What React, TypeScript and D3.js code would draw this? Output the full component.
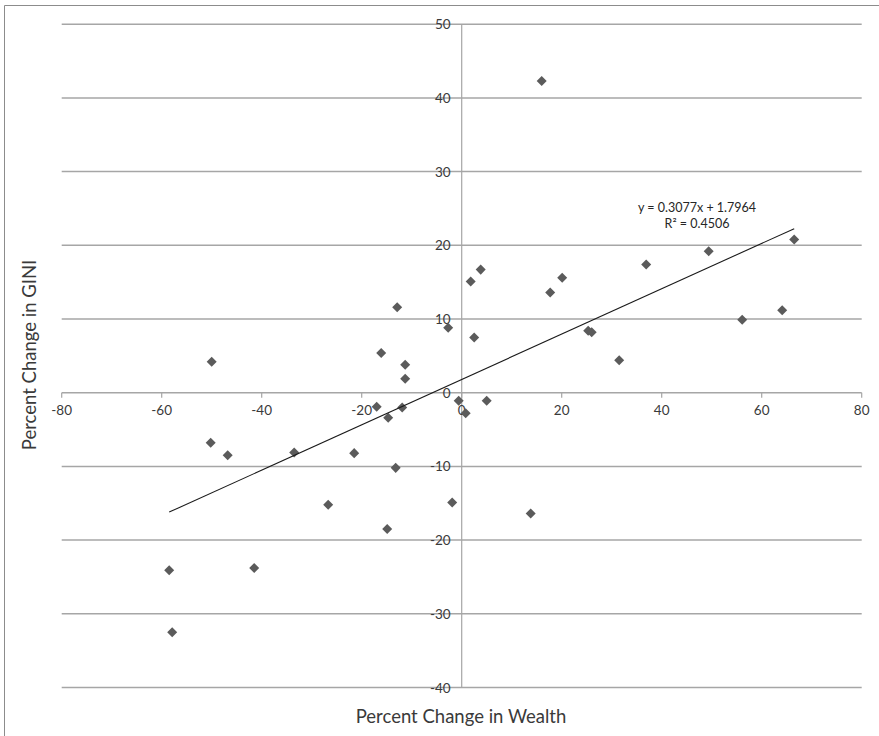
import React from "react";
import * as d3 from "d3";

// Percent change in wealth (x) and percent change in GINI (y), one entry per observation
const wealthChange = [
  -50.0, -50.2, -46.8, -33.5, -26.7, -21.5, -17.0, -16.1, -14.7, -14.9,
  -13.2, -12.9, -11.9, -11.3, -11.3, -2.7, -1.9, -0.6, 0.8, 1.8,
  2.5, 3.8, 5.0, 17.7, 20.1, 25.3, 26.0, 31.5, 36.9, 49.4,
  66.5, 56.1, 64.1, 16.0, 13.8, -58.5, -57.9, -41.5,
];
const giniChange = [
  4.2, -6.8, -8.5, -8.1, -15.2, -8.2, -1.9, 5.4, -3.4, -18.5,
  -10.2, 11.6, -2.0, 3.8, 1.9, 8.8, -14.9, -1.1, -2.8, 15.1,
  7.5, 16.7, -1.1, 13.6, 15.6, 8.4, 8.2, 4.4, 17.4, 19.2,
  20.8, 9.9, 11.2, 42.3, -16.4, -24.1, -32.5, -23.8,
];

// Linear trend reported for the series
const trendSlope = 0.3077;
const trendIntercept = 1.7964;
const trendRSquared = 0.4506;

const xTicks = [-80, -60, -40, -20, 0, 20, 40, 60, 80];
const yTicks = [50, 40, 30, 20, 10, 0, -10, -20, -30, -40];

const W = 879;
const H = 736;
const FONT = "Lato, 'Open Sans', 'DejaVu Sans', sans-serif";

export default function App() {
  const x = d3.scaleLinear().domain([-80, 80]).range([61.7, 861.7]);
  const y = d3.scaleLinear().domain([-40, 50]).range([687.5, 24.2]);

  const points = wealthChange.map((wx, i) => ({ wx, gy: giniChange[i] }));
  const [xMin, xMax] = d3.extent(wealthChange) as [number, number];
  const trend = d3
    .line<number>()
    .x((v) => x(v))
    .y((v) => y(trendSlope * v + trendIntercept));

  const diamond = d3.symbol().type(d3.symbolDiamond2).size(64)();
  const gridColor = "#a6a6a6";
  const textColor = "#3a3a3a";

  return (
    <div style={{ position: "fixed", left: 0, top: 0 }}>
      <svg width={W} height={H} style={{ display: "block", background: "#fff" }}>
        {/* chart frame (left and top edges fall inside the view) */}
        <line x1={4.5} x2={4.5} y1={5.5} y2={H} stroke="#8c8c8c" strokeWidth={1} />
        <line x1={4.5} x2={W} y1={5.5} y2={5.5} stroke="#8c8c8c" strokeWidth={1} />

        {/* horizontal gridlines */}
        {yTicks.map((t) => (
          <line key={`g${t}`} x1={x(-80)} x2={x(80)} y1={y(t)} y2={y(t)} stroke={gridColor} strokeWidth={1.5} />
        ))}

        {/* vertical axis line at x = 0 */}
        <line x1={x(0)} x2={x(0)} y1={y(50)} y2={y(-40)} stroke={gridColor} strokeWidth={1.2} />

        {/* x tick marks */}
        {xTicks.map((t) => (
          <line key={`xt${t}`} x1={x(t)} x2={x(t)} y1={y(0)} y2={y(0) + 5} stroke={gridColor} strokeWidth={1.2} />
        ))}

        {/* x tick labels */}
        {xTicks.map((t) => (
          <text key={`xl${t}`} x={x(t)} y={y(0) + 22} textAnchor="middle" fontFamily={FONT} fontSize={13.5} fill={textColor}>
            {t}
          </text>
        ))}

        {/* y tick labels */}
        {yTicks.map((t) => (
          <text key={`yl${t}`} x={x(0) - 11} y={y(t) + 5} textAnchor="end" fontFamily={FONT} fontSize={13.5} fill={textColor}>
            {t}
          </text>
        ))}

        {/* scatter points */}
        {points.map((p, i) => (
          <path key={`p${i}`} d={diamond ?? ""} transform={`translate(${x(p.wx)},${y(p.gy)})`} fill="#5b5b5b" />
        ))}

        {/* linear trendline */}
        <path d={trend([xMin, xMax]) ?? ""} fill="none" stroke="#1a1a1a" strokeWidth={1.1} />

        {/* trendline equation */}
        <text x={697} y={212} textAnchor="middle" fontFamily={FONT} fontSize={12.5} fill="#262626">
          {`y = ${trendSlope}x + ${trendIntercept}`}
        </text>
        <text x={697} y={228} textAnchor="middle" fontFamily={FONT} fontSize={12.5} fill="#262626">
          {`R² = ${trendRSquared}`}
        </text>

        {/* axis titles */}
        <text x={461} y={723} textAnchor="middle" fontFamily={FONT} fontSize={18.5} fill={textColor}>
          Percent Change in Wealth
        </text>
        <text
          transform="translate(36,355) rotate(-90)"
          textAnchor="middle"
          fontFamily={FONT}
          fontSize={18.5}
          fill={textColor}
        >
          Percent Change in GINI
        </text>
      </svg>
    </div>
  );
}
